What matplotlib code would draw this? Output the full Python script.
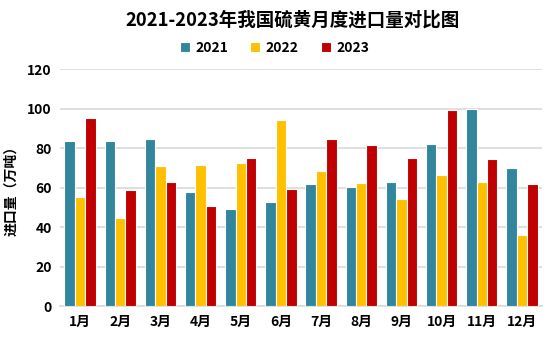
import matplotlib
matplotlib.use("Agg")
import matplotlib.pyplot as plt
import numpy as np

plt.rcParams['font.family'] = ['Noto Sans CJK SC', 'DejaVu Sans']

months = ["1月", "2月", "3月", "4月", "5月", "6月", "7月", "8月", "9月", "10月", "11月", "12月"]
series_names = ["2021", "2022", "2023"]
v2021 = [83.7, 83.7, 84.7, 57.9, 49.3, 52.8, 61.9, 60.4, 62.9, 82.2, 99.9, 70.0]
v2022 = [55.3, 44.7, 71.0, 71.5, 72.5, 94.3, 68.5, 62.4, 54.3, 66.5, 62.9, 36.1]
v2023 = [95.3, 58.9, 62.9, 50.8, 75.0, 59.4, 84.7, 81.7, 75.0, 99.4, 74.5, 61.9]
colors = ["#31859C", "#FFC000", "#C00000"]

fig = plt.figure(figsize=(5.49, 3.40), dpi=100)
ax = fig.add_axes([60/549, 1-306.3/340, 482/549, (306.3-69.3)/340])

x = np.arange(len(months))
w = 0.26
for i, (vals, c, n) in enumerate(zip([v2021, v2022, v2023], colors, series_names)):
    ax.bar(x + (i-1)*w, vals, width=w, color=c, edgecolor='white', linewidth=0.8, label=n, zorder=3)

ax.set_xlim(-0.5, 11.5)
ax.set_ylim(0, 120)
ax.set_yticks(range(0, 121, 20))
ax.set_xticks(x)
ax.set_xticklabels(months, fontweight='bold', fontsize=10)
for lbl in ax.get_yticklabels():
    lbl.set_fontweight('bold')
    lbl.set_fontsize(10)
ax.tick_params(axis='both', length=0, pad=6)
ax.grid(axis='y', color='#D9D9D9', linewidth=1.2, zorder=0)
for s in ['top', 'right', 'left']:
    ax.spines[s].set_visible(False)
ax.spines['bottom'].set_color('#D9D9D9')
ax.spines['bottom'].set_linewidth(1.2)
ax.set_ylabel("进口量（万吨）", fontweight='bold', fontsize=10, labelpad=6)

fig.text(293/549, 1-20/340, "2021-2023年我国硫黄月度进口量对比图", ha='center', va='center',
         fontsize=13.3, fontweight='bold')
fig.legend(loc='center', bbox_to_anchor=(0.5, 1-48/340), ncol=3, frameon=False,
           prop={'weight': 'bold', 'size': 10}, handlelength=0.7, handleheight=0.7,
           columnspacing=1.6, handletextpad=0.4)

fig.savefig("out.png", dpi=100)
